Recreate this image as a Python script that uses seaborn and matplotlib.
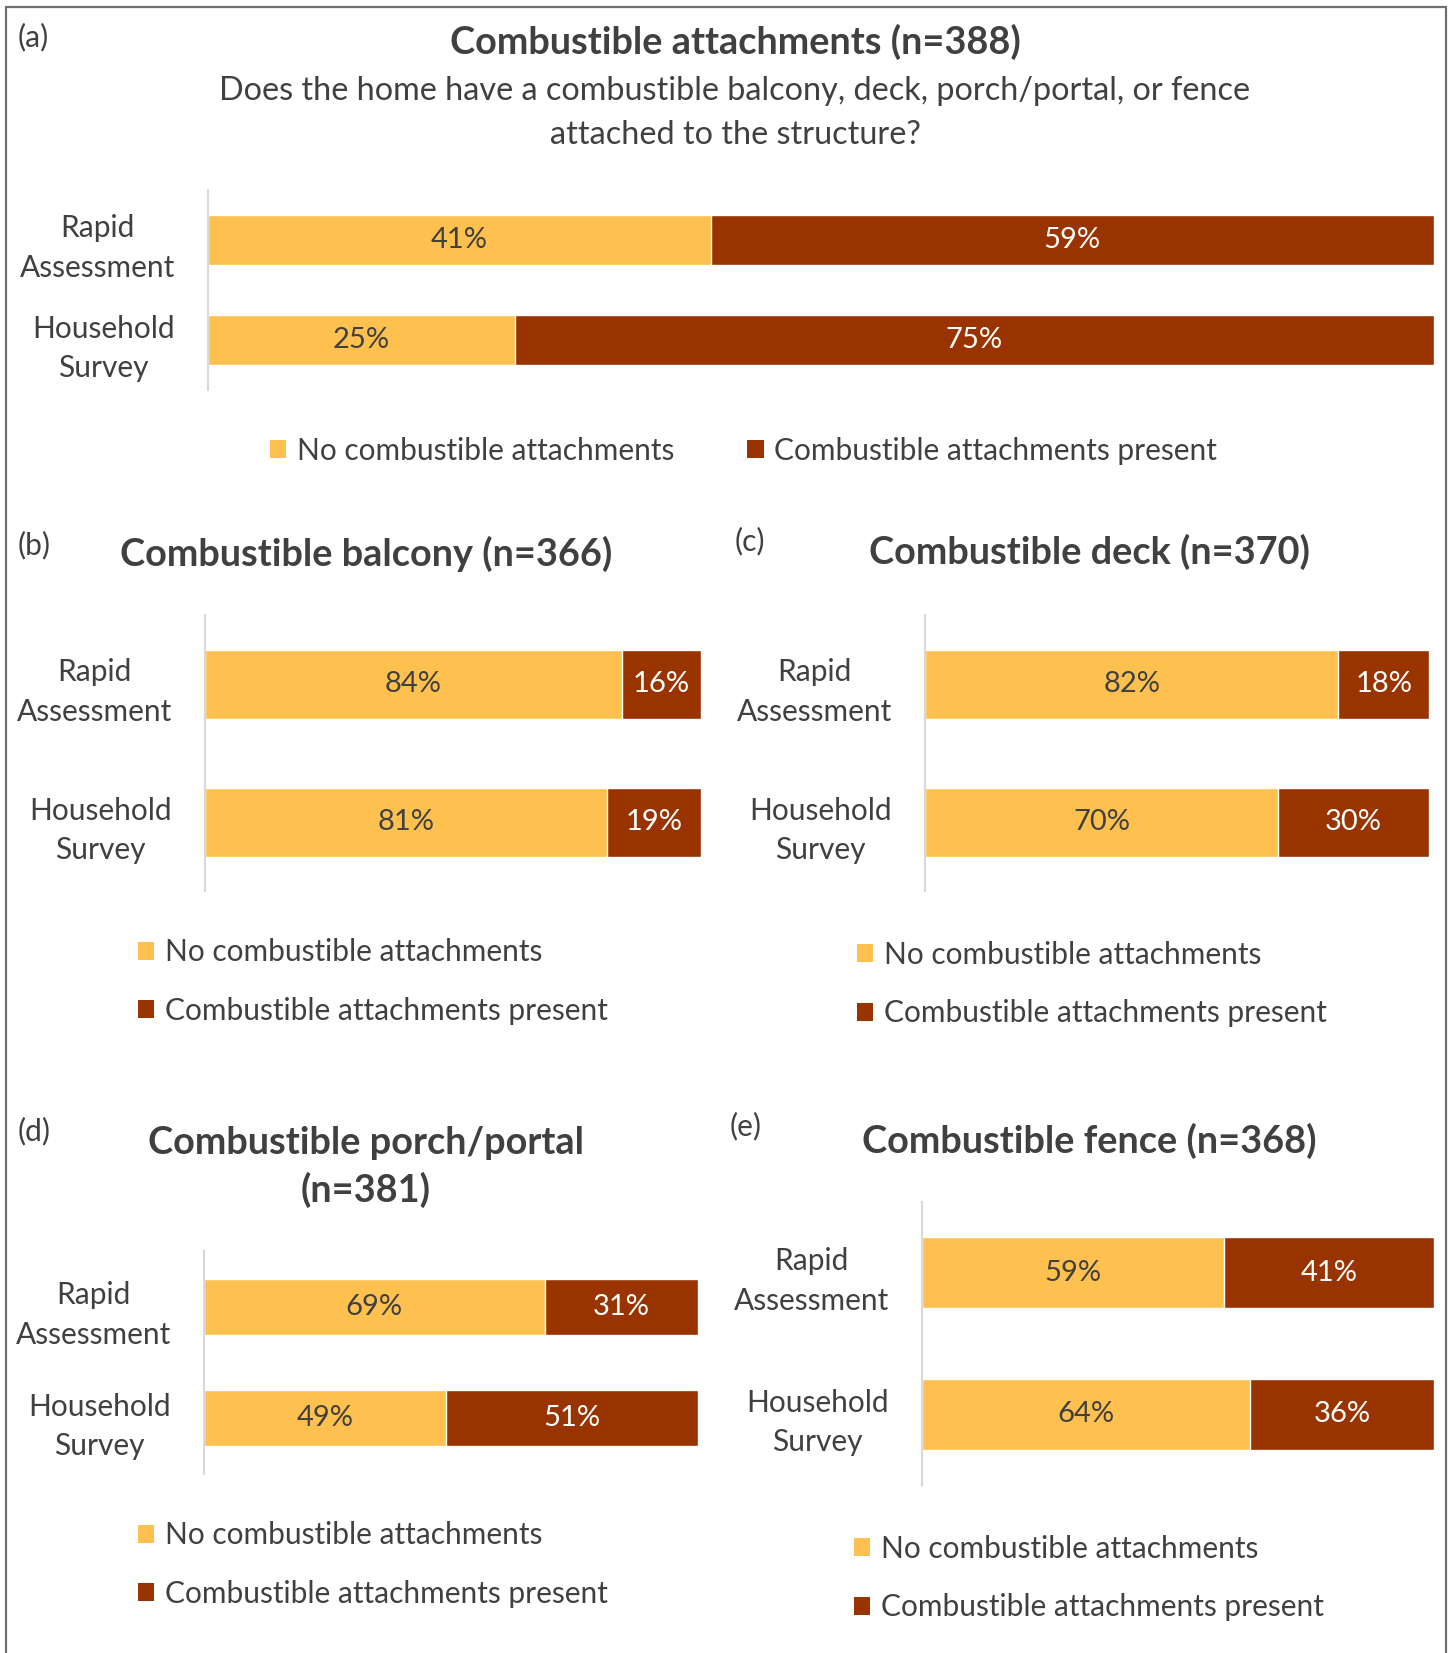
import matplotlib
matplotlib.use("Agg")
import matplotlib.pyplot as plt
import seaborn as sns
import pandas as pd
from matplotlib.patches import Patch

sns.set_theme(style="white")
plt.rcParams['font.family'] = ['Lato', 'DejaVu Sans']

# ---------------- data ----------------
categories = ["Rapid\nAssessment", "Household\nSurvey"]
series_names = ["No combustible attachments", "Combustible attachments present"]

panel_keys = ["a", "b", "c", "d", "e"]
titles = {
    "a": "Combustible attachments (n=388)",
    "b": "Combustible balcony (n=366)",
    "c": "Combustible deck (n=370)",
    "d": "Combustible porch/portal\n(n=381)",
    "e": "Combustible fence (n=368)",
}
subtitle_a = "Does the home have a combustible balcony, deck, porch/portal, or fence\nattached to the structure?"

no_attach = {
    "a": [41, 25],
    "b": [84, 81],
    "c": [82, 70],
    "d": [69, 49],
    "e": [59, 64],
}
attach_present = {
    "a": [59, 75],
    "b": [16, 19],
    "c": [18, 30],
    "d": [31, 51],
    "e": [41, 36],
}

YELLOW = "#FEC14F"
RED = "#993300"
TXT = "#404040"

W, H = 1449, 1653
fig = plt.figure(figsize=(W / 100, H / 100), dpi=100)

def fx(x):
    return x / W

def fy(y):
    return 1 - y / H

# axes rectangles in pixels: left, top, right, bottom
rects = {
    "a": (208, 190, 1434, 390),
    "b": (205, 615, 701, 891),
    "c": (925, 615, 1429, 891),
    "d": (204, 1251, 698, 1474),
    "e": (922, 1202, 1434, 1485),
}

FS = 21
LFS = 21.5
TFS = 27.3

for k in panel_keys:
    l, t, r, b = rects[k]
    ax = fig.add_axes([fx(l), fy(b), (r - l) / W, (b - t) / H])
    df = pd.DataFrame({
        "source": categories,
        "no": no_attach[k],
        "yes": attach_present[k],
    })
    df["total"] = df["no"] + df["yes"]
    sns.barplot(data=df, y="source", x="total", color=RED, saturation=1,
                orient="h", width=0.5, errorbar=None, ax=ax)
    sns.barplot(data=df, y="source", x="no", color=YELLOW, saturation=1,
                orient="h", width=0.5, errorbar=None, ax=ax)
    for i, (n, y) in enumerate(zip(df["no"], df["yes"])):
        ax.text(n / 2, i, f"{n}%", ha="center", va="center", fontsize=FS, color=TXT)
        ax.text(n + y / 2, i, f"{y}%", ha="center", va="center", fontsize=FS, color="white")
    ax.set_xlim(0, 100)
    ax.set_ylim(1.5, -0.5)
    ax.set_xlabel("")
    ax.set_ylabel("")
    ax.set_xticks([])
    for s in ["top", "right", "bottom"]:
        ax.spines[s].set_visible(False)
    ax.spines["left"].set_color("#D9D9D9")
    ax.spines["left"].set_linewidth(1.5)
    ax.tick_params(axis="y", length=0, pad=24, labelsize=LFS, labelcolor=TXT)
    for lab in ax.get_yticklabels():
        lab.set_multialignment("center")
        lab.set_linespacing(1.5)
    ax.set_facecolor("none")

# titles
title_pos = {
    "a": (735, 42),
    "b": (366, 554),
    "c": (1089, 552),
    "d": (366, 1167),
    "e": (1089, 1141),
}
for k in panel_keys:
    x, y = title_pos[k]
    fig.text(fx(x), fy(y), titles[k], ha="center", va="center", fontsize=TFS,
             fontweight="bold", color=TXT, linespacing=1.4)

fig.text(fx(735), fy(113), subtitle_a, ha="center", va="center", fontsize=23.3,
         color=TXT, linespacing=1.55)

# panel letters
letter_pos = {"a": (18, 37), "b": (18, 545), "c": (735, 541), "d": (18, 1131), "e": (730, 1126)}
for k in panel_keys:
    x, y = letter_pos[k]
    fig.text(fx(x), fy(y), f"({k})", ha="left", va="center", fontsize=LFS, color=TXT)

handles = [Patch(facecolor=YELLOW, edgecolor="none"), Patch(facecolor=RED, edgecolor="none")]

# legend (a): horizontal
fig.legend(handles, series_names, loc="center left", bbox_to_anchor=(fx(270), fy(451)),
           ncol=2, frameon=False, fontsize=LFS, labelcolor=TXT, borderpad=0, borderaxespad=0,
           handlelength=0.55, handleheight=0.55, handletextpad=0.35, columnspacing=2.45)

# vertical legends
leg_pos = {"b": (138, 981.5), "c": (857, 984), "d": (138, 1564.5), "e": (854, 1578)}
for k, (x, y) in leg_pos.items():
    fig.legend(handles, series_names, loc="center left", bbox_to_anchor=(fx(x), fy(y)),
               ncol=1, frameon=False, fontsize=LFS, labelcolor=TXT, borderpad=0, borderaxespad=0,
               handlelength=0.55, handleheight=0.55, handletextpad=0.35, labelspacing=1.02)

# outer frame (left, top, right)
frame_kw = dict(color="#707070", linewidth=1.6, transform=fig.transFigure)
fig.add_artist(plt.Line2D([fx(6), fx(6)], [0, fy(7)], **frame_kw))
fig.add_artist(plt.Line2D([fx(6), fx(1446)], [fy(7), fy(7)], **frame_kw))
fig.add_artist(plt.Line2D([fx(1446), fx(1446)], [0, fy(7)], **frame_kw))

fig.savefig("out.png", dpi=100, facecolor="white")
